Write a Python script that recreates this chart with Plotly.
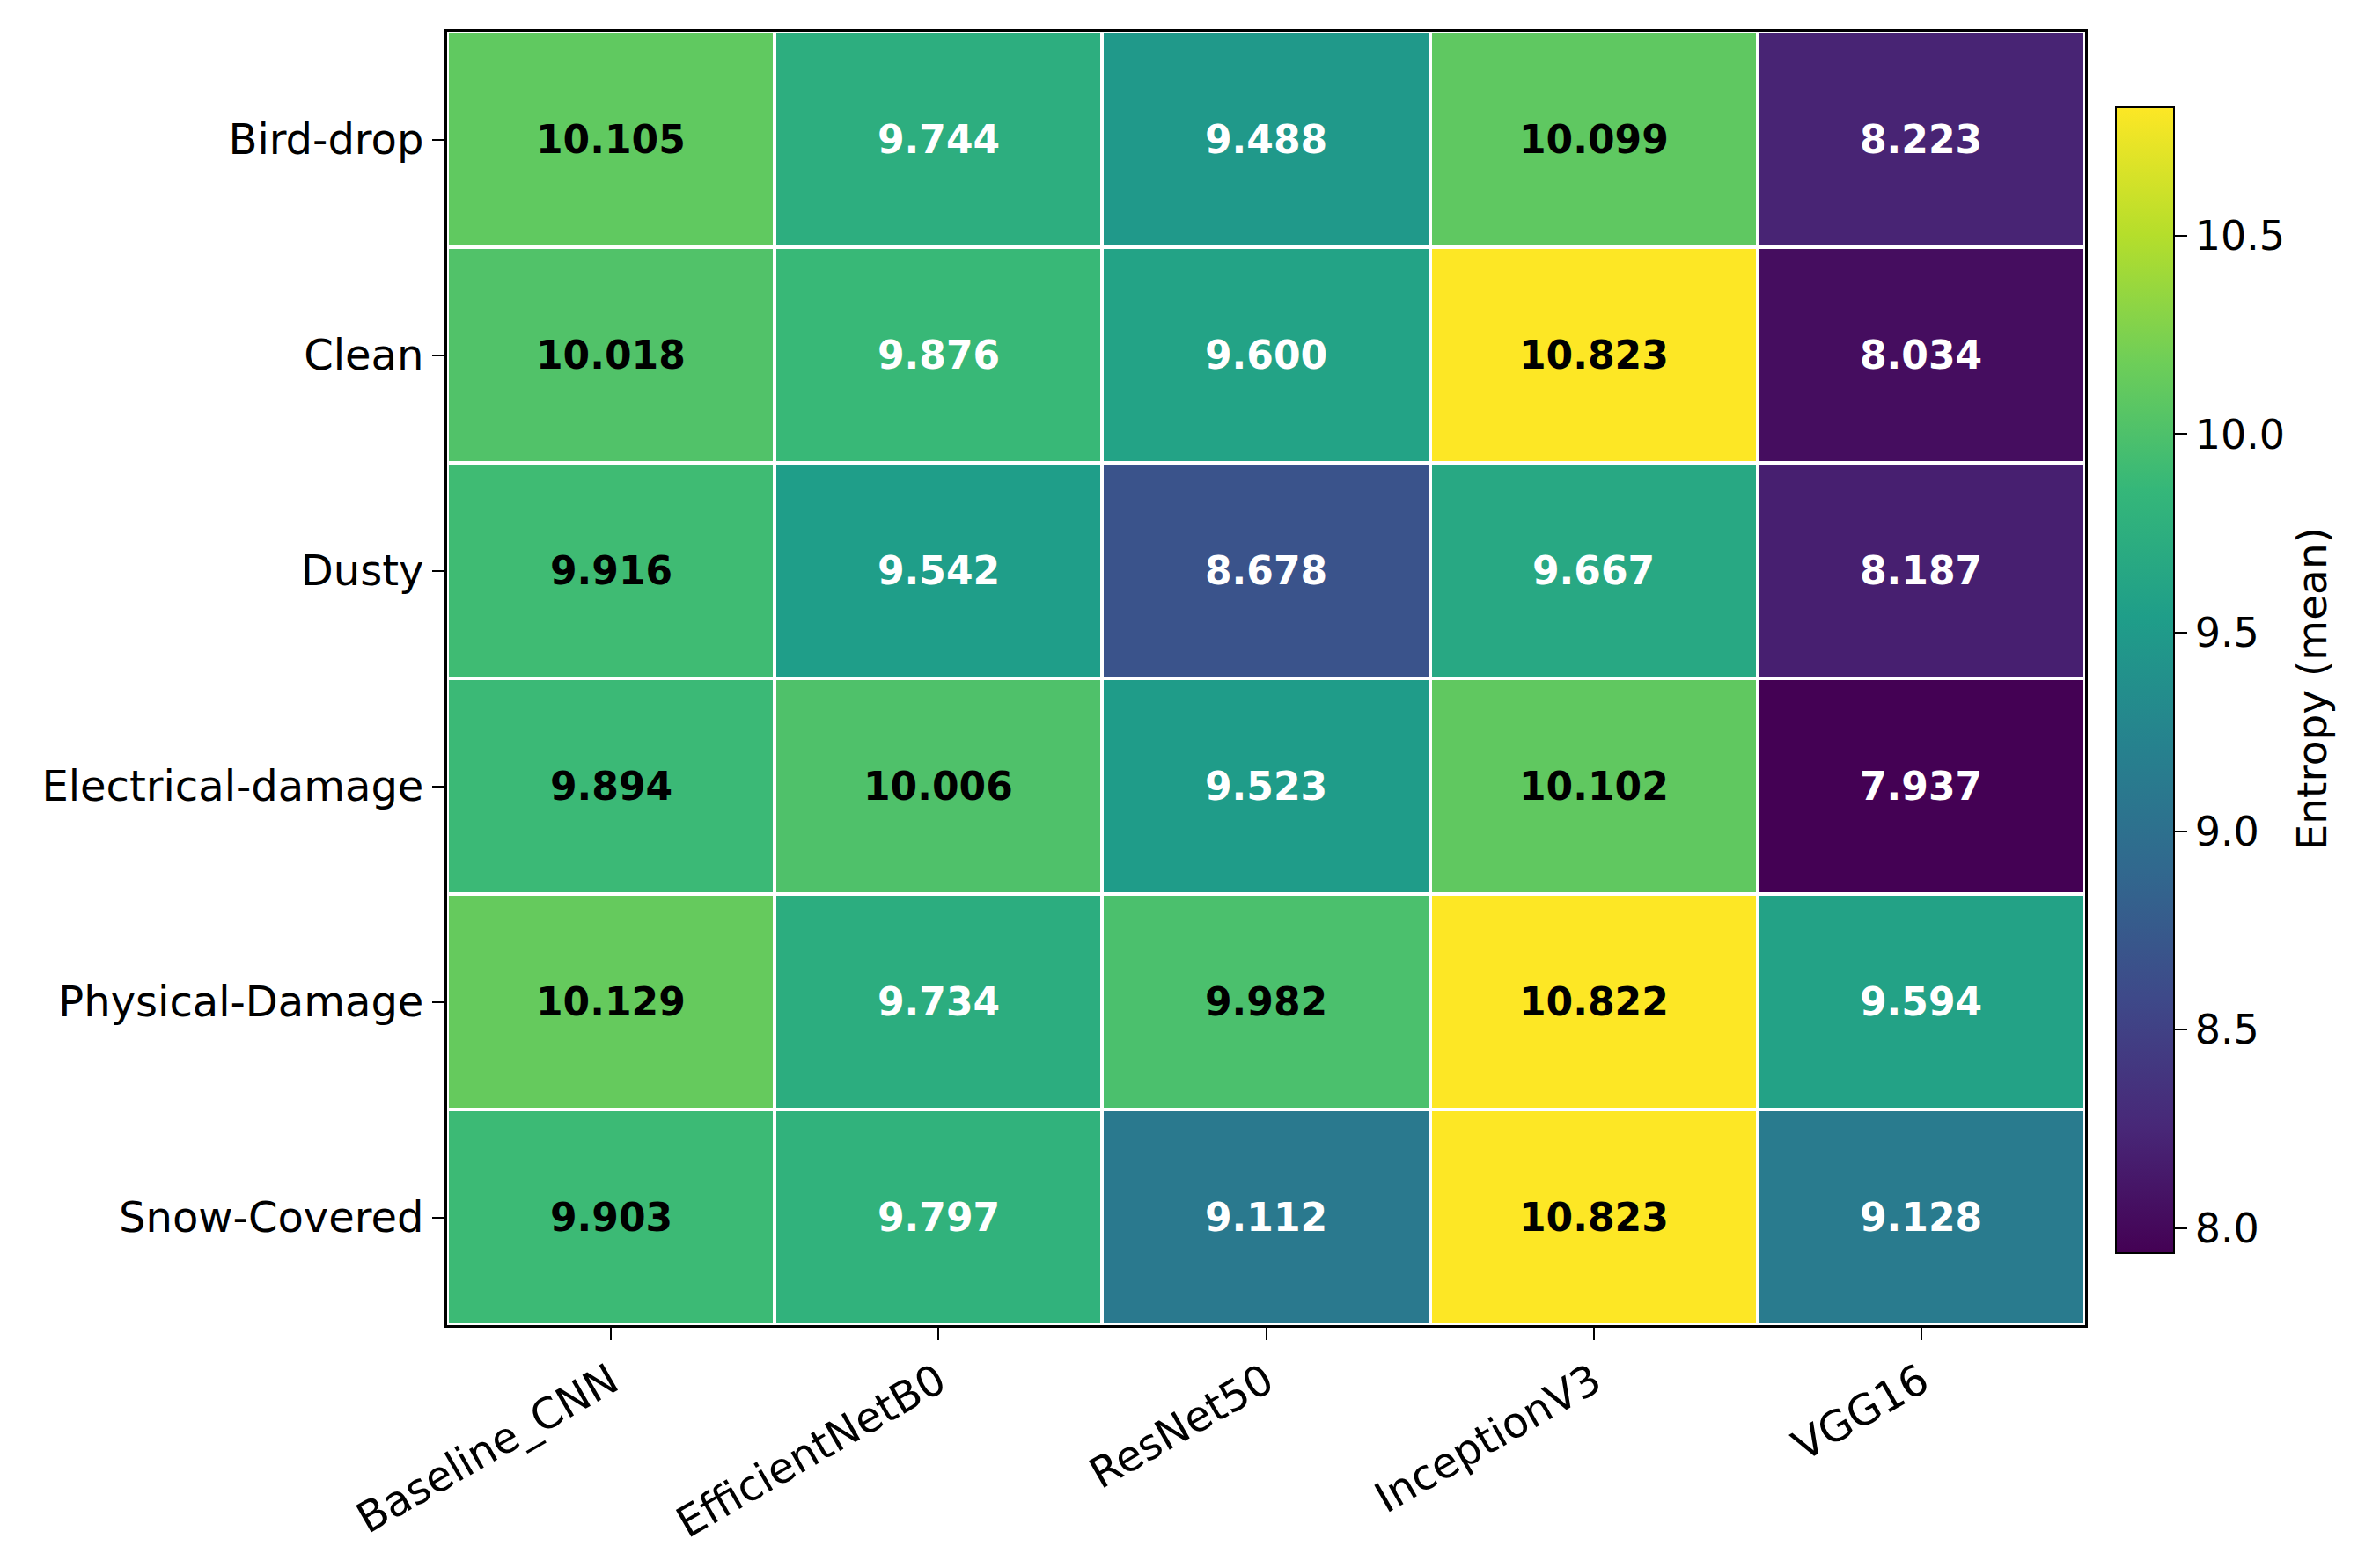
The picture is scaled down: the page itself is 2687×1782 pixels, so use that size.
import plotly.graph_objects as go

models = ["Baseline_CNN", "EfficientNetB0", "ResNet50", "InceptionV3", "VGG16"]
conditions = ["Bird-drop", "Clean", "Dusty", "Electrical-damage", "Physical-Damage", "Snow-Covered"]

baseline_cnn = [10.105, 10.018, 9.916, 9.894, 10.129, 9.903]
efficientnetb0 = [9.744, 9.876, 9.542, 10.006, 9.734, 9.797]
resnet50 = [9.488, 9.600, 8.678, 9.523, 9.982, 9.112]
inceptionv3 = [10.099, 10.823, 9.667, 10.102, 10.822, 10.823]
vgg16 = [8.223, 8.034, 8.187, 7.937, 9.594, 9.128]

cbar_ticks = [8.0, 8.5, 9.0, 9.5, 10.0, 10.5]
cbar_ticktext = ["8.0", "8.5", "9.0", "9.5", "10.0", "10.5"]
cbar_title = "Entropy (mean)"

columns = [baseline_cnn, efficientnetb0, resnet50, inceptionv3, vgg16]
z = [[col[i] for col in columns] for i in range(len(conditions))]
flat = [v for row in z for v in row]
zmin, zmax = min(flat), max(flat)
threshold = 9.885

FONT = "DejaVu Sans"

fig = go.Figure()
fig.add_trace(go.Heatmap(
    z=z, x=models, y=conditions,
    colorscale="Viridis", zmin=zmin, zmax=zmax,
    xgap=4, ygap=4,
    colorbar=dict(
        x=1.019, xanchor="left", y=0.4985, yanchor="middle",
        len=0.886, lenmode="fraction", thickness=66, thicknessmode="pixels",
        outlinecolor="black", outlinewidth=2,
        tickvals=cbar_ticks, ticktext=cbar_ticktext,
        ticks="outside", ticklen=14, tickwidth=2, tickcolor="black",
        tickfont=dict(family=FONT, size=46, color="black"),
        xpad=0, ypad=0,
    ),
    hoverinfo="skip",
))

annotations = []
for i, cond in enumerate(conditions):
    for j, m in enumerate(models):
        v = z[i][j]
        annotations.append(dict(
            x=m, y=cond, xref="x", yref="y", text=f"{v:.3f}", showarrow=False,
            font=dict(family=FONT, size=44, color="black" if v >= threshold else "white", weight="bold"),
        ))

annotations.append(dict(
    x=1.1385, y=0.492, xref="paper", yref="paper", text=cbar_title, showarrow=False,
    textangle=-90, xanchor="center", yanchor="middle",
    font=dict(family=FONT, size=47, color="black"),
))

fig.update_layout(
    width=2687, height=1782,
    margin=dict(l=500, r=326, t=28, b=284),
    paper_bgcolor="white", plot_bgcolor="white",
    annotations=annotations,
    font=dict(family=FONT, color="black"),
)
fig.update_xaxes(
    showline=True, linecolor="black", linewidth=3, mirror=True,
    ticks="outside", ticklen=14, tickwidth=2, tickcolor="black",
    tickangle=-30, tickfont=dict(family=FONT, size=48, color="black"),
    showgrid=False, zeroline=False,
)
fig.update_yaxes(
    autorange="reversed",
    showline=True, linecolor="black", linewidth=3, mirror=True,
    ticks="outside", ticklen=14, tickwidth=2, tickcolor="black",
    tickfont=dict(family=FONT, size=48, color="black"),
    showgrid=False, zeroline=False,
)

fig.write_html("out.html")
